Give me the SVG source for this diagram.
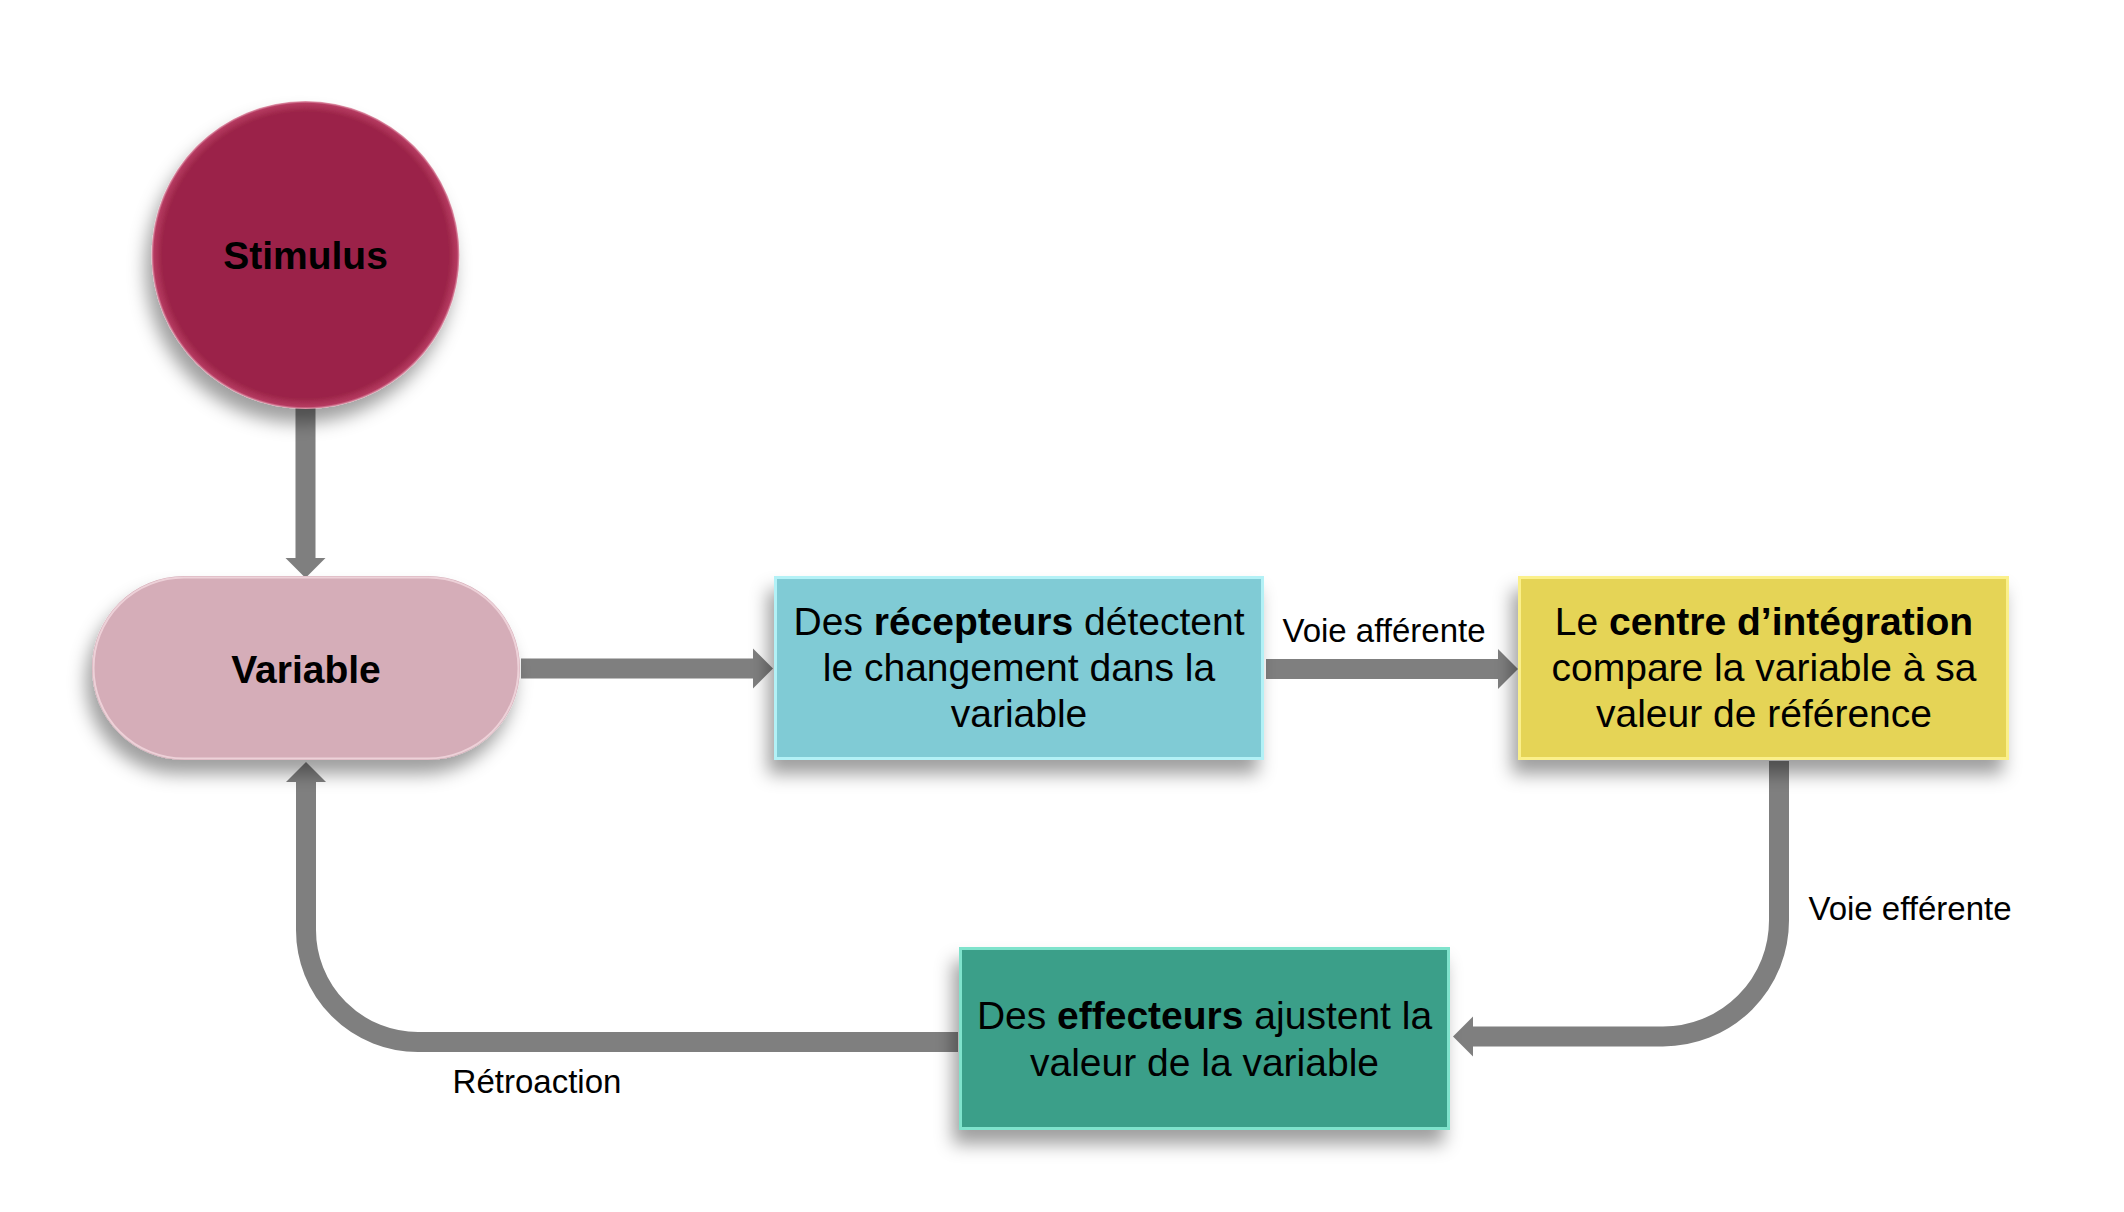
<svg xmlns="http://www.w3.org/2000/svg" width="2124" height="1212" viewBox="0 0 2124 1212">
  <defs>
    <filter id="shadow" x="-20%" y="-20%" width="140%" height="150%">
      <feDropShadow dx="-6" dy="14" stdDeviation="9" flood-color="#000" flood-opacity="0.38"/>
    </filter>
    <marker id="head" markerUnits="userSpaceOnUse" viewBox="0 -21 20 42" markerWidth="20" markerHeight="42" refX="0" refY="0" orient="auto">
      <path d="M0,-20 L20,0 L0,20 Z" fill="#7f7f7f"/>
    </marker>
    <radialGradient id="rimStim" cx="50%" cy="50%" r="50%">
      <stop offset="0.93" stop-color="#9b2448"/>
      <stop offset="0.985" stop-color="#b53a60"/>
      <stop offset="1" stop-color="#e7a6b8"/>
    </radialGradient>
  </defs>
  <style>
    .t { font-family: "Liberation Sans", Arial, Helvetica, sans-serif; fill: #000; }
    .node { font-size: 39px; text-anchor: middle; }
    .b { font-weight: bold; }
    .lbl { font-size: 33px; text-anchor: middle; }
    .conn { fill: none; stroke: #7f7f7f; stroke-width: 20; stroke-linecap: butt; marker-end: url(#head); }
    .box { filter: url(#shadow); }
  </style>
  <rect width="2124" height="1212" fill="#ffffff"/>

  <g id="connectors">
    <path class="conn" d="M305.5,408 L305.5,558"/>
    <path class="conn" d="M521,668.5 L753,668.5"/>
    <path class="conn" d="M1266,669 L1498,669"/>
    <path class="conn" d="M1779,761 L1779,920 A116,116 0 0 1 1663,1036.5 L1473,1036.5"/>
    <path class="conn" d="M958,1042 L418,1042 A112,112 0 0 1 306,930 L306,782"/>
    <text class="t lbl" x="1384" y="642">Voie afférente</text>
    <text class="t lbl" x="1910" y="920">Voie efférente</text>
    <text class="t lbl" x="537" y="1093">Rétroaction</text>
  </g>

  <g id="stimulus">
    <circle class="box" cx="305.5" cy="255" r="154" fill="url(#rimStim)"/>
    <text class="t node b" x="305.5" y="269">Stimulus</text>
  </g>

  <g id="variable">
    <rect class="box" x="92" y="576" width="428" height="184" rx="92" ry="92" fill="#d5adb8"/>
    <rect x="93.5" y="577.5" width="425" height="181" rx="90.5" ry="90.5" fill="none" stroke="#f3d9e0" stroke-width="2" opacity="0.8"/>
    <text class="t node b" x="306" y="683">Variable</text>
  </g>

  <g id="recepteurs">
    <rect class="box" x="774" y="576" width="490" height="184" fill="#80cbd5"/>
    <rect x="775.5" y="577.5" width="487" height="181" fill="none" stroke="#b3f1f6" stroke-width="3"/>
    <text class="t node" x="1019" y="635">Des <tspan class="b">récepteurs</tspan> détectent</text>
    <text class="t node" x="1019" y="681">le changement dans la</text>
    <text class="t node" x="1019" y="727">variable</text>
  </g>

  <g id="centre">
    <rect class="box" x="1518" y="576" width="491" height="184" fill="#e5d456"/>
    <rect x="1519.5" y="577.5" width="488" height="181" fill="none" stroke="#fbf08a" stroke-width="3"/>
    <text class="t node" x="1764" y="635">Le <tspan class="b">centre d’intégration</tspan></text>
    <text class="t node" x="1764" y="681">compare la variable à sa</text>
    <text class="t node" x="1764" y="727">valeur de référence</text>
  </g>

  <g id="effecteurs">
    <rect class="box" x="959" y="947" width="491" height="183" fill="#3a9f89"/>
    <rect x="960.5" y="948.5" width="488" height="180" fill="none" stroke="#7fe3cc" stroke-width="3"/>
    <text class="t node" x="1204.5" y="1029">Des <tspan class="b">effecteurs</tspan> ajustent la</text>
    <text class="t node" x="1204.5" y="1076">valeur de la variable</text>
  </g>
</svg>
